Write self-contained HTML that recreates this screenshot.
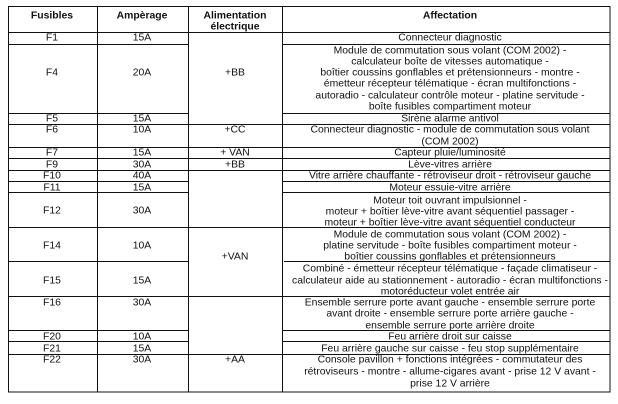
<!DOCTYPE html>
<html><head><meta charset="utf-8"><style>
html,body{margin:0;padding:0;background:#fff;}
svg{display:block;}
text{font-family:"Liberation Sans",Arial,sans-serif;font-size:10.4px;fill:#111;text-anchor:middle;}
.h{font-weight:bold;font-size:10.4px;}
line{stroke:#111;stroke-width:1;}
</style></head><body>
<svg width="618" height="404" viewBox="0 0 618 404">
<g shape-rendering="crispEdges">
<rect x="8.5" y="6.5" width="601.5" height="385.5" fill="none" stroke="#111"/>
<line x1="97.5" y1="6" x2="97.5" y2="392"/>
<line x1="188.5" y1="6" x2="188.5" y2="392"/>
<line x1="282.5" y1="6" x2="282.5" y2="392"/>
<line x1="8" y1="32.5" x2="610" y2="32.5"/>
<line x1="8" y1="44.5" x2="188" y2="44.5"/><line x1="282" y1="44.5" x2="610" y2="44.5"/>
<line x1="8" y1="113.5" x2="188" y2="113.5"/><line x1="282" y1="113.5" x2="610" y2="113.5"/>
<line x1="8" y1="124.5" x2="610" y2="124.5"/>
<line x1="8" y1="147.5" x2="610" y2="147.5"/>
<line x1="8" y1="158.5" x2="610" y2="158.5"/>
<line x1="8" y1="170.5" x2="610" y2="170.5"/>
<line x1="8" y1="181.5" x2="188" y2="181.5"/><line x1="282" y1="181.5" x2="610" y2="181.5"/>
<line x1="8" y1="192.5" x2="188" y2="192.5"/><line x1="282" y1="192.5" x2="610" y2="192.5"/>
<line x1="8" y1="227.5" x2="610" y2="227.5"/>
<line x1="8" y1="261.5" x2="188" y2="261.5"/><line x1="284" y1="261.5" x2="610" y2="261.5"/>
<line x1="8" y1="296.5" x2="610" y2="296.5"/>
<line x1="8" y1="330.5" x2="188" y2="330.5"/><line x1="282" y1="330.5" x2="610" y2="330.5"/>
<line x1="8" y1="341.5" x2="188" y2="341.5"/><line x1="282" y1="341.5" x2="610" y2="341.5"/>
<line x1="8" y1="354.5" x2="610" y2="354.5"/>
</g>
<text class="h" x="52" y="18.5">Fusibles</text>
<text class="h" x="142" y="18.5">Ampèrage</text>
<text class="h" x="235" y="18.5">Alimentation</text>
<text class="h" x="235" y="29.5">électrique</text>
<text class="h" x="450" y="18.5">Affectation</text>

<g>
<text x="52" y="40.5">F1</text><text x="142" y="40.5">15A</text>
<text x="52" y="75.5">F4</text><text x="142" y="75.5">20A</text>
<text x="52" y="121.5">F5</text><text x="142" y="121.5">15A</text>
<text x="52" y="132.5">F6</text><text x="142" y="132.5">10A</text>
<text x="52" y="155.5">F7</text><text x="142" y="155.5">15A</text>
<text x="52" y="167.5">F9</text><text x="142" y="167.5">30A</text>
<text x="52" y="178.5">F10</text><text x="142" y="178.5">40A</text>
<text x="52" y="190.5">F11</text><text x="142" y="190.5">15A</text>
<text x="52" y="213.5">F12</text><text x="142" y="213.5">30A</text>
<text x="52" y="248.5">F14</text><text x="142" y="248.5">10A</text>
<text x="52" y="283.5">F15</text><text x="142" y="283.5">15A</text>
<text x="52" y="305.5">F16</text><text x="142" y="305.5">30A</text>
<text x="52" y="339.5">F20</text><text x="142" y="339.5">10A</text>
<text x="52" y="351.5">F21</text><text x="142" y="351.5">15A</text>
<text x="52" y="362.5">F22</text><text x="142" y="362.5">30A</text>

<text x="235" y="75.5">+BB</text>
<text x="235" y="132.5">+CC</text>
<text x="235" y="155.5">+ VAN</text>
<text x="235" y="167.5">+BB</text>
<text x="235" y="259.5">+VAN</text>
<text x="235" y="362.5">+AA</text>
</g>

<g>
<text x="450" y="40.5">Connecteur diagnostic</text>
<text x="450" y="53.5">Module de commutation sous volant (COM 2002) -</text>
<text x="450" y="64.5">calculateur boîte de vitesses automatique -</text>
<text x="450" y="75.5">boîtier coussins gonflables et prétensionneurs - montre -</text>
<text x="450" y="86.5">émetteur récepteur télématique - écran multifonctions -</text>
<text x="450" y="98.5">autoradio - calculateur contrôle moteur - platine servitude -</text>
<text x="450" y="109.5">boîte fusibles compartiment moteur</text>
<text x="450" y="121.5">Sirène alarme antivol</text>
<text x="450" y="132.5">Connecteur diagnostic - module de commutation sous volant</text>
<text x="450" y="144.5">(COM 2002)</text>
<text x="450" y="155.5">Capteur pluie/luminosité</text>
<text x="450" y="167.5">Lève-vitres arrière</text>
<text x="450" y="178.5">Vitre arrière chauffante - rétroviseur droit - rétroviseur gauche</text>
<text x="450" y="190.5">Moteur essuie-vitre arrière</text>
<text x="450" y="203.5">Moteur toit ouvrant impulsionnel -</text>
<text x="450" y="214.5">moteur + boîtier lève-vitre avant séquentiel passager -</text>
<text x="450" y="225.5">moteur + boîtier lève-vitre avant séquentiel conducteur</text>
<text x="450" y="237.5">Module de commutation sous volant (COM 2002) -</text>
<text x="450" y="248.5">platine servitude - boîte fusibles compartiment moteur -</text>
<text x="450" y="259.5">boîtier coussins gonflables et prétensionneurs</text>
<text x="450" y="271.5">Combiné - émetteur récepteur télématique - façade climatiseur -</text>
<text x="450" y="283.5">calculateur aide au stationnement - autoradio - écran multifonctions -</text>
<text x="450" y="294.5">motoréducteur volet entrée air</text>
<text x="450" y="305.5">Ensemble serrure porte avant gauche - ensemble serrure porte</text>
<text x="450" y="316.5">avant droite - ensemble serrure porte arrière gauche -</text>
<text x="450" y="328.5">ensemble serrure porte arrière droite</text>
<text x="450" y="339.5">Feu arrière droit sur caisse</text>
<text x="450" y="351.5">Feu arrière gauche sur caisse - feu stop supplémentaire</text>
<text x="450" y="362.5">Console pavillon + fonctions intégrées - commutateur des</text>
<text x="450" y="374.5">rétroviseurs - montre - allume-cigares avant - prise 12 V avant -</text>
<text x="450" y="386.5">prise 12 V arrière</text>
</g>
</svg>
</body></html>
